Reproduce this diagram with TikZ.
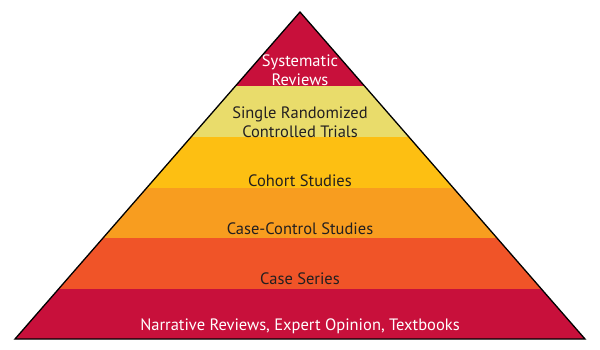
\documentclass[tikz,border=0pt]{standalone}
\usepackage{fontspec}
\setmainfont{PT Sans}
\definecolor{bandred}{HTML}{C8103B}
\definecolor{bandyellow}{HTML}{E9DC6B}
\definecolor{bandgold}{HTML}{FDBF12}
\definecolor{bandorange}{HTML}{F89D1F}
\definecolor{banddark}{HTML}{F05428}
\definecolor{txt}{HTML}{231F20}
\begin{document}
\begin{tikzpicture}[x=1pt,y=-1pt,
  lbl/.style={font=\fontsize{16.5}{18.5}\selectfont, text=txt, align=center, inner sep=0pt},
  wlbl/.style={lbl, text=white}]
\useasboundingbox (0,0) rectangle (600,350);
\coordinate (apex) at (300,12);
\coordinate (bl) at (15,339);
\coordinate (br) at (585,339);
\begin{scope}
\clip (apex) -- (bl) -- (br) -- cycle;
\fill[bandred] (0,0) rectangle (600,86);
\fill[bandyellow] (0,86) rectangle (600,137);
\fill[bandgold] (0,137) rectangle (600,188);
\fill[bandorange] (0,188) rectangle (600,238);
\fill[banddark] (0,238) rectangle (600,289);
\fill[bandred] (0,289) rectangle (600,350);
\end{scope}
\draw[line width=1.3pt, line join=miter] (apex) -- (bl) -- (br) -- cycle;
\node[wlbl] (sys) at (300,70) {Systematic\\Reviews};
\node[lbl] (rct) at (300,122) {Single Randomized\\Controlled Trials};
\node[lbl] (coh) at (300,181) {Cohort Studies};
\node[lbl] (cc) at (300,229) {Case-Control Studies};
\node[lbl] (cs) at (300,279) {Case Series};
\node[wlbl] (nar) at (300,326) {Narrative Reviews, Expert Opinion, Textbooks};
\end{tikzpicture}
\end{document}
